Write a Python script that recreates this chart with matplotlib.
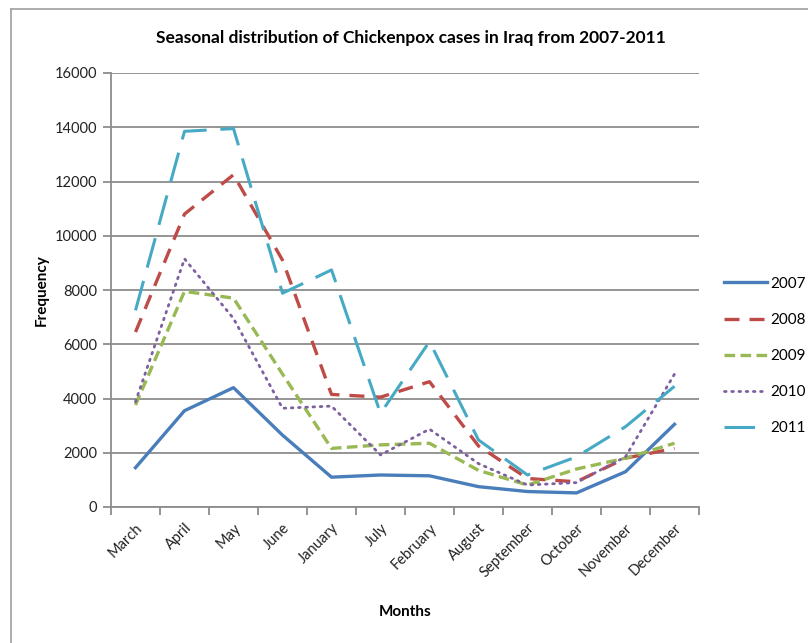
import matplotlib
matplotlib.use("Agg")
import matplotlib.pyplot as plt
from matplotlib.lines import Line2D

months = ["March", "April", "May", "June", "January", "July", "February",
          "August", "September", "October", "November", "December"]

cases_2007 = [1450, 3550, 4400, 2650, 1100, 1180, 1150, 750, 570, 520, 1300, 3050]
cases_2008 = [6450, 10800, 12250, 9100, 4150, 4050, 4620, 2250, 1050, 930, 1800, 2160]
cases_2009 = [3760, 7950, 7700, 4900, 2160, 2290, 2350, 1350, 810, 1400, 1800, 2350]
cases_2010 = [3880, 9150, 6950, 3640, 3720, 1920, 2870, 1600, 810, 900, 1850, 4900]
cases_2011 = [7250, 13850, 13950, 7880, 8740, 3450, 6100, 2470, 1180, 1850, 2960, 4450]

years = ["2007", "2008", "2009", "2010", "2011"]
series = [cases_2007, cases_2008, cases_2009, cases_2010, cases_2011]

y_ticks = [0, 2000, 4000, 6000, 8000, 10000, 12000, 14000, 16000]

colors = ["#4A7EBB", "#BE4B48", "#98B954", "#7D60A0", "#46AAC5"]
styles = [
    dict(linestyle="-", linewidth=2.4),
    dict(linestyle=(0, (4.5, 3.0)), linewidth=2.4),
    dict(linestyle=(0, (3.2, 1.6)), linewidth=2.4),
    dict(linestyle=(0, (0.6, 2.0)), linewidth=2.0, dash_capstyle="round"),
    dict(linestyle=(0, (10, 4.5)), linewidth=2.2),
]

font = ["Lato", "DejaVu Sans"]
plt.rcParams["font.family"] = font

fig = plt.figure(figsize=(8.08, 6.43), dpi=100)
ax = fig.add_axes([111 / 808, 1 - 507 / 643, 588 / 808, 434 / 643])

x = list(range(len(months)))
for vals, col, st, yr in zip(series, colors, styles, years):
    ax.plot(x, vals, color=col, label=yr, **st)

ax.set_xlim(-0.5, len(months) - 0.5)
ax.set_ylim(0, 16000)
ax.set_yticks(y_ticks)
ax.set_yticklabels([str(v) for v in y_ticks], fontsize=10.5, color="#222222")
ax.yaxis.grid(True, color="#8C8C8C", linewidth=1.3)
ax.set_axisbelow(True)

ax.set_xticks(x)
ax.set_xticklabels(months, rotation=45, ha="right", rotation_mode="anchor",
                   fontsize=10.5, color="#222222")
ax.set_xticks([i - 0.5 for i in range(len(months) + 1)], minor=True)
ax.tick_params(axis="x", which="major", length=0, pad=10)
ax.tick_params(axis="x", which="minor", length=6, color="#8C8C8C", width=1.3)
ax.tick_params(axis="y", length=6, color="#8C8C8C", width=1.3, pad=4)

for side in ("top", "right"):
    ax.spines[side].set_visible(False)
for side in ("left", "bottom"):
    ax.spines[side].set_color("#8C8C8C")
    ax.spines[side].set_linewidth(1.3)

fig.text(411 / 808, 1 - 38 / 643,
         "Seasonal distribution of Chickenpox cases in Iraq from 2007-2011",
         ha="center", va="center", fontsize=12.5, fontweight="bold")
fig.text(405 / 808, 1 - 612 / 643, "Months", ha="center", va="center",
         fontsize=11, fontweight="bold")
fig.text(42 / 808, 1 - 290 / 643, "Frequency", ha="center", va="center",
         rotation=90, fontsize=11, fontweight="bold")

leg = ax.legend(loc="center left", bbox_to_anchor=(721 / 808, 1 - 356 / 643),
                bbox_transform=fig.transFigure, frameon=False, fontsize=11,
                handlelength=2.8, handletextpad=0.2, labelspacing=1.45,
                borderpad=0.2, borderaxespad=0.0)

# chart frame
fig.add_artist(Line2D([11 / 808, 1], [1 - 9 / 643, 1 - 9 / 643],
                      transform=fig.transFigure, color="#A6A6A6", linewidth=1.3))
fig.add_artist(Line2D([11 / 808, 11 / 808], [0, 1 - 9 / 643],
                      transform=fig.transFigure, color="#A6A6A6", linewidth=1.3))

fig.savefig("out.png", dpi=100)
